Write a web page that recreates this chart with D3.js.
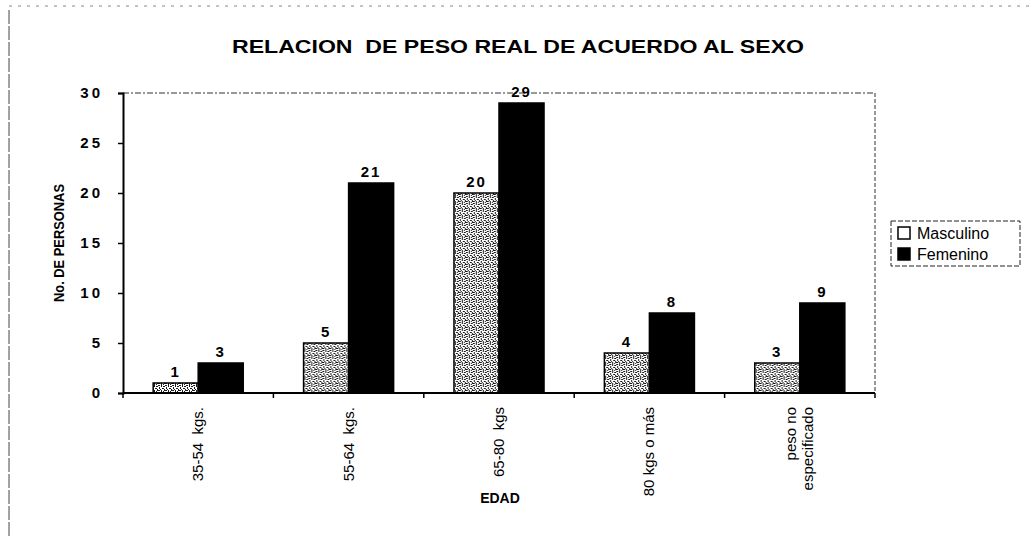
<!DOCTYPE html>
<html>
<head>
<meta charset="utf-8">
<script src="https://cdn.jsdelivr.net/npm/d3@7"></script>
<style>
  body { margin: 0; background: #fff; }
  svg { display: block; }
  text { font-family: "Liberation Sans", Arial, sans-serif; fill: #000; white-space: pre; }
</style>
</head>
<body>
<svg width="1032" height="536"></svg>
<script>
// categories (weight ranges) and the two series
const categories = ["35-54  kgs.", "55-64  kgs.", "65-80  kgs", "80 kgs o más", "peso no|especificado"];
const series = ["Masculino", "Femenino"];
const masculino = [1, 5, 20, 4, 3];
const femenino = [3, 21, 29, 8, 9];
const yTicks = [0, 5, 10, 15, 20, 25, 30];

const svg = d3.select('svg');

// speckled fill for the Masculino bars
const defs = svg.append('defs');
const pat = defs.append('pattern')
  .attr('id', 'speckle')
  .attr('width', 7).attr('height', 7)
  .attr('patternUnits', 'userSpaceOnUse');
pat.append('rect').attr('width', 7).attr('height', 7).attr('fill', '#fff');
[[0,0,2,1],[3,0,1,2],[5,1,2,1],[1,2,1,2],[4,3,2,1],[0,5,2,1],[3,5,1,2],[6,4,1,2],[2,4,1,1],[5,6,1,1]].forEach(function(r){
  pat.append('rect').attr('x', r[0]).attr('y', r[1]).attr('width', r[2]).attr('height', r[3]).attr('fill', '#1a1a1a');
});

// outer chart frame (faint, scanned look)
svg.append('line').attr('x1', 9).attr('x2', 9).attr('y1', 10).attr('y2', 536)
  .attr('stroke', '#444').attr('stroke-width', 1).attr('stroke-dasharray', '14,2');
svg.append('line').attr('x1', 9).attr('x2', 1032).attr('y1', 6).attr('y2', 6)
  .attr('stroke', '#888').attr('stroke-width', 1).attr('stroke-dasharray', '3,6');

const plot = {left: 123, right: 875, top: 93, bottom: 393};

const x0 = d3.scaleBand().domain(categories).range([plot.left, plot.right]).padding(0);
const x1 = d3.scaleBand().domain(series).range([0, x0.bandwidth()]).paddingInner(0).paddingOuter(0.67);
const y = d3.scaleLinear().domain([0, 30]).range([plot.bottom, plot.top]);

// plot area border top/right (dotted)
svg.append('line').attr('x1', plot.left).attr('x2', plot.right).attr('y1', plot.top).attr('y2', plot.top)
  .attr('stroke', '#333').attr('stroke-dasharray', '6,2,2,2');
svg.append('line').attr('x1', plot.right).attr('x2', plot.right).attr('y1', plot.top).attr('y2', plot.bottom)
  .attr('stroke', '#333').attr('stroke-dasharray', '4,2');

// title
svg.append('text')
  .attr('x', 518).attr('y', 53)
  .attr('text-anchor', 'middle')
  .attr('font-size', 19).attr('font-weight', 'bold')
  .attr('textLength', 572).attr('lengthAdjust', 'spacingAndGlyphs')
  .text('RELACION  DE PESO REAL DE ACUERDO AL SEXO');

// bars
const rows = categories.map(function(c, i){ return {cat: c, values: [masculino[i], femenino[i]]}; });
const groups = svg.selectAll('g.group')
  .data(rows)
  .enter().append('g')
  .classed('group', true)
  .attr('transform', function(d){ return 'translate(' + x0(d.cat) + ',0)'; });

groups.selectAll('rect')
  .data(function(d){ return series.map(function(s, j){ return {s: s, v: d.values[j]}; }); })
  .enter().append('rect')
  .attr('x', function(d){ return x1(d.s); })
  .attr('y', function(d){ return y(d.v); })
  .attr('width', x1.bandwidth())
  .attr('height', function(d){ return y(0) - y(d.v); })
  .attr('fill', function(d){ return d.s === 'Masculino' ? 'url(#speckle)' : '#000'; })
  .attr('stroke', '#000').attr('stroke-width', 1.5);

// value labels
groups.selectAll('text.val')
  .data(function(d){ return series.map(function(s, j){ return {s: s, v: d.values[j]}; }); })
  .enter().append('text')
  .classed('val', true)
  .attr('x', function(d){ return x1(d.s) + x1.bandwidth() / 2; })
  .attr('y', function(d){ return y(d.v) - 6; })
  .attr('text-anchor', 'middle')
  .attr('font-size', 15).attr('font-weight', 'bold')
  .attr('letter-spacing', 2)
  .text(function(d){ return d.v; });

// y axis
const yAxis = svg.append('g')
  .attr('transform', 'translate(' + plot.left + ',0)')
  .call(d3.axisLeft(y).tickValues(yTicks).tickSize(5).tickPadding(15));
yAxis.select('.domain').attr('stroke', '#000').attr('stroke-width', 2);
yAxis.selectAll('.tick line').attr('stroke', '#000').attr('stroke-width', 1.5);
yAxis.selectAll('.tick text')
  .attr('font-family', '"Liberation Sans", Arial, sans-serif')
  .attr('font-size', 15).attr('font-weight', 'bold').attr('letter-spacing', 3);

// x axis: ticks on the category boundaries
const xAxisG = svg.append('g').attr('transform', 'translate(0,' + plot.bottom + ')');
xAxisG.append('line').attr('x1', plot.left).attr('x2', plot.right)
  .attr('stroke', '#000').attr('stroke-width', 2);
const bounds = categories.map(function(c){ return x0(c); }).concat([plot.right]);
xAxisG.selectAll('line.tk')
  .data(bounds)
  .enter().append('line')
  .classed('tk', true)
  .attr('x1', function(d){ return d; }).attr('x2', function(d){ return d; })
  .attr('y1', 0).attr('y2', 5)
  .attr('stroke', '#000').attr('stroke-width', 1.5);

// rotated category labels
const lab = svg.selectAll('text.cat')
  .data(categories)
  .enter().append('text')
  .classed('cat', true)
  .attr('transform', function(d){
    return 'translate(' + (x0(d) + x0.bandwidth() / 2) + ',' + (plot.bottom + 14) + ') rotate(-90)';
  })
  .attr('text-anchor', 'end')
  .attr('font-size', 15);
lab.each(function(d){
  const parts = d.split('|');
  const t = d3.select(this);
  parts.forEach(function(p, k){
    t.append('tspan')
      .attr('x', 0)
      .attr('y', (k - (parts.length - 1) / 2) * 17 + 5)
      .text(p);
  });
});

// axis titles
svg.append('text')
  .attr('x', 500).attr('y', 503)
  .attr('text-anchor', 'middle')
  .attr('font-size', 14).attr('font-weight', 'bold')
  .text('EDAD');

svg.append('text')
  .attr('transform', 'translate(64,243) rotate(-90)')
  .attr('text-anchor', 'middle')
  .attr('font-family', '"Liberation Sans Narrow", "Arial Narrow", "Liberation Sans", sans-serif')
  .attr('font-stretch', 'condensed')
  .attr('font-size', 15).attr('font-weight', 'bold')
  .attr('textLength', 118).attr('lengthAdjust', 'spacingAndGlyphs')
  .text('No. DE PERSONAS');

// legend
const leg = svg.append('g').attr('transform', 'translate(891,221)');
leg.append('rect').attr('width', 129).attr('height', 45)
  .attr('fill', '#fff').attr('stroke', '#222').attr('stroke-dasharray', '5,2');
const legFill = ['#fff', '#000'];
const li = leg.selectAll('g.li')
  .data(series)
  .enter().append('g')
  .classed('li', true)
  .attr('transform', function(d, i){ return 'translate(7,' + (6 + i * 21) + ')'; });
li.append('rect').attr('width', 12).attr('height', 12)
  .attr('fill', function(d, i){ return legFill[i]; })
  .attr('stroke', '#000').attr('stroke-width', 1.5);
li.append('text').attr('x', 19).attr('y', 12)
  .attr('font-size', 16)
  .text(function(d){ return d; });
</script>
</body>
</html>
